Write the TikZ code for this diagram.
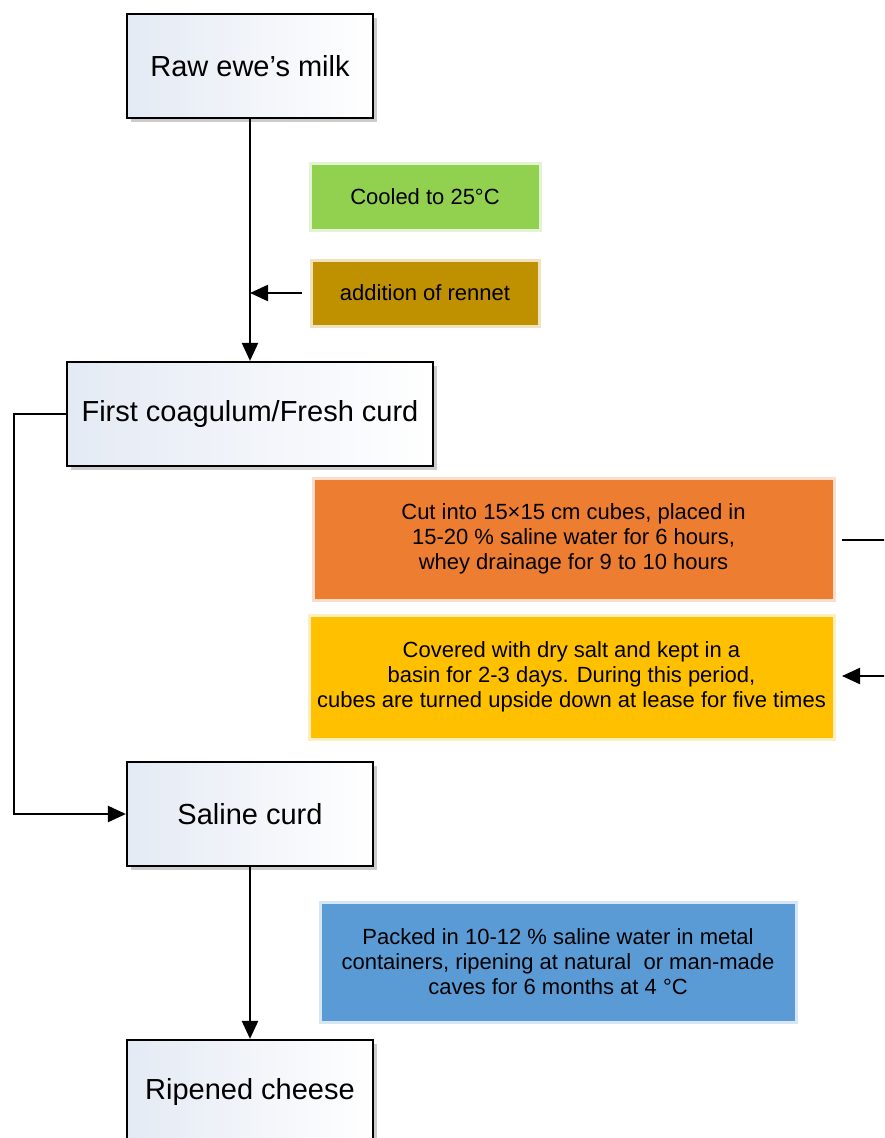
\documentclass[tikz,border=0pt]{standalone}
\usepackage{fontspec}
\setmainfont{Liberation Sans}
\usetikzlibrary{arrows.meta,shadows}
\definecolor{cgreen}{HTML}{92D050}
\definecolor{cbrown}{HTML}{BF9000}
\definecolor{corange}{HTML}{ED7D31}
\definecolor{cyellow}{HTML}{FFC000}
\definecolor{cblue}{HTML}{5B9BD5}
\definecolor{bluegray}{RGB}{228,234,244}
\begin{document}
\begin{tikzpicture}[x=1pt,y=-1pt,
  stage/.style={draw=black, line width=2.2pt, minimum width=246pt, minimum height=104pt,
    inner sep=0pt, font=\fontsize{29}{34}\selectfont,
    left color=bluegray, right color=white,
    drop shadow={shadow xshift=4pt, shadow yshift=-4pt, fill=black!40, opacity=0.5}},
  note/.style={fill=#1, draw=#1, line width=1pt, inner sep=0pt, align=center,
    font=\fontsize{22}{25}\selectfont,
    preaction={draw=#1, line width=7pt, draw opacity=0.25}},
  conn/.style={line width=2.3pt, -{Triangle[length=18pt,width=16pt]}},
  plain/.style={line width=2.3pt}]
\useasboundingbox (0,0) rectangle (884,1138);
\clip (0,0) rectangle (884,1138);

% main stages
\node[stage] (milk) at (250,66) {Raw ewe’s milk};
\node[stage, minimum width=366pt] (curd) at (250,414) {First coagulum/Fresh curd};
\node[stage] (saline) at (250,814) {Saline curd};
\node[stage] (ripe) at (250,1092) {Ripened cheese};

% notes
\node[note=cgreen, minimum width=226pt, minimum height=63pt] (cool) at (425,196.5) {Cooled to 25°C};
\node[note=cbrown, minimum width=224pt, minimum height=62pt] (rennet) at (425,293) {addition of rennet};
\node[note=corange, minimum width=517pt, minimum height=118pt] (cut) at (573.5,539)
  {Cut into 15×15 cm cubes, placed in\\ 15-20 \% saline water for 6 hours,\\ whey drainage for 9 to 10 hours};
\node[note=cyellow, minimum width=521pt, minimum height=120pt] (salt) at (571.5,677)
  {Covered with dry salt and kept in a\\ basin for 2-3 days. During this period,\\ cubes are turned upside down at lease for five times};
\node[note=cblue, minimum width=472pt, minimum height=116pt] (pack) at (558,962)
  {Packed in 10-12 \% saline water in metal\\ containers, ripening at natural\ \ or man-made\\ caves for 6 months at 4 °C};

% connectors
\draw[conn] (milk.south) -- (curd.north);
\coordinate (rjoin) at (250,293);
\coordinate (rstart) at (302,293);
\draw[conn] (rstart) -- (rjoin);
\coordinate (lcorner) at (14,414);
\draw[conn] (curd.west) -- (lcorner) |- (saline.west);
\coordinate (cutout) at (842,540);
\coordinate (cutedge) at (890,540);
\draw[plain] (cutout) -- (cutedge);
\coordinate (saltin) at (842,676);
\coordinate (saltedge) at (890,676);
\draw[conn] (saltedge) -- (saltin);
\draw[conn] (saline.south) -- (ripe.north);
\end{tikzpicture}
\end{document}
